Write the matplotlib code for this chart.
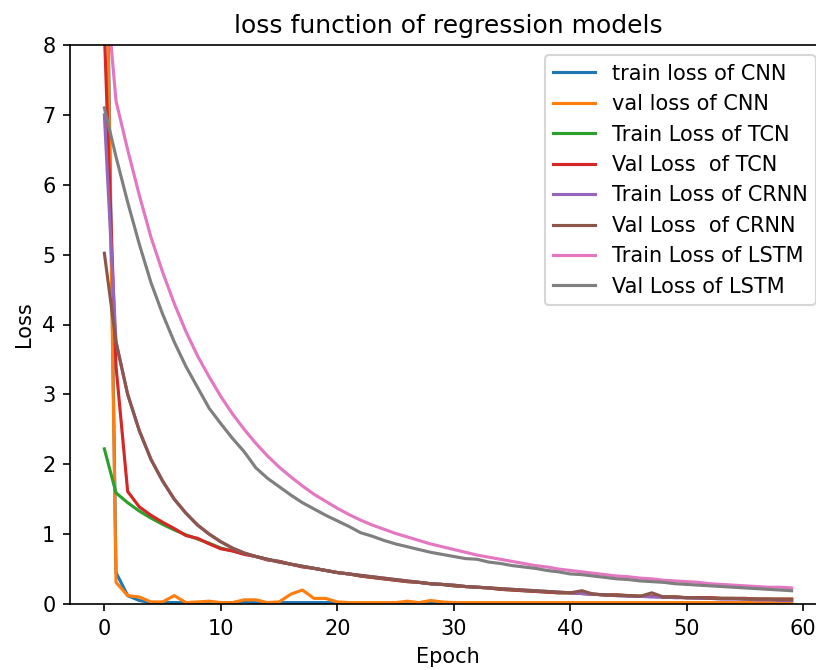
import numpy as np
import matplotlib
matplotlib.use("Agg")
import matplotlib.pyplot as plt

# ================== DATA ==================
epochs = list(range(60))

train_cnn = [12.0, 0.45, 0.12, 0.05, 0.02, 0.02, 0.02, 0.02, 0.02, 0.02,
             0.02, 0.02, 0.03, 0.02, 0.02, 0.02, 0.02, 0.02, 0.02, 0.02,
             0.02, 0.01, 0.01, 0.01, 0.01, 0.01, 0.02, 0.01, 0.02, 0.01,
             0.01, 0.01, 0.01, 0.01, 0.01, 0.01, 0.01, 0.01, 0.01, 0.01,
             0.01, 0.01, 0.01, 0.01, 0.01, 0.01, 0.01, 0.01, 0.01, 0.01,
             0.01, 0.01, 0.01, 0.01, 0.01, 0.01, 0.01, 0.01, 0.01, 0.01]
val_cnn = [11.6, 0.31, 0.12, 0.10, 0.03, 0.03, 0.12, 0.02, 0.03, 0.04,
           0.02, 0.02, 0.06, 0.06, 0.02, 0.03, 0.14, 0.20, 0.08, 0.08,
           0.03, 0.02, 0.02, 0.02, 0.02, 0.02, 0.04, 0.02, 0.05, 0.03,
           0.02, 0.02, 0.02, 0.02, 0.02, 0.02, 0.02, 0.02, 0.02, 0.02,
           0.02, 0.02, 0.02, 0.02, 0.02, 0.02, 0.02, 0.02, 0.02, 0.02,
           0.02, 0.02, 0.02, 0.02, 0.02, 0.02, 0.02, 0.02, 0.02, 0.02]
train_tcn = [2.22, 1.59, 1.45, 1.33, 1.23, 1.14, 1.06, 0.99, 0.93, 0.87,
             0.80, 0.76, 0.72, 0.68, 0.64, 0.61, 0.57, 0.54, 0.51, 0.48,
             0.45, 0.43, 0.40, 0.38, 0.36, 0.34, 0.32, 0.31, 0.29, 0.28,
             0.26, 0.25, 0.24, 0.23, 0.21, 0.20, 0.19, 0.18, 0.17, 0.16,
             0.16, 0.15, 0.14, 0.13, 0.13, 0.12, 0.11, 0.11, 0.10, 0.10,
             0.09, 0.09, 0.09, 0.08, 0.08, 0.08, 0.07, 0.07, 0.07, 0.07]
val_tcn = [8.2, 3.4, 1.61, 1.39, 1.27, 1.17, 1.08, 0.98, 0.94, 0.86,
           0.79, 0.76, 0.71, 0.68, 0.63, 0.61, 0.57, 0.53, 0.51, 0.48,
           0.45, 0.43, 0.40, 0.38, 0.36, 0.34, 0.32, 0.31, 0.29, 0.28,
           0.26, 0.25, 0.24, 0.23, 0.21, 0.20, 0.19, 0.18, 0.17, 0.16,
           0.16, 0.15, 0.14, 0.13, 0.13, 0.12, 0.11, 0.11, 0.10, 0.10,
           0.09, 0.09, 0.09, 0.08, 0.08, 0.08, 0.07, 0.07, 0.07, 0.07]
train_crnn = [7.0, 3.75, 3.0, 2.48, 2.07, 1.76, 1.5, 1.3, 1.13, 1.0,
              0.89, 0.8, 0.73, 0.68, 0.64, 0.60, 0.57, 0.54, 0.51, 0.48,
              0.45, 0.43, 0.41, 0.39, 0.37, 0.35, 0.33, 0.31, 0.29, 0.28,
              0.27, 0.25, 0.24, 0.23, 0.22, 0.21, 0.20, 0.19, 0.18, 0.17,
              0.16, 0.15, 0.14, 0.13, 0.12, 0.11, 0.11, 0.10, 0.10, 0.09,
              0.09, 0.08, 0.08, 0.07, 0.07, 0.07, 0.06, 0.06, 0.05, 0.05]
val_crnn = [5.02, 3.75, 3.0, 2.48, 2.07, 1.76, 1.5, 1.3, 1.13, 1.0,
            0.89, 0.8, 0.73, 0.68, 0.64, 0.60, 0.57, 0.54, 0.51, 0.48,
            0.45, 0.43, 0.41, 0.39, 0.37, 0.35, 0.33, 0.31, 0.29, 0.28,
            0.27, 0.25, 0.24, 0.23, 0.22, 0.21, 0.20, 0.19, 0.18, 0.17,
            0.16, 0.19, 0.14, 0.13, 0.12, 0.12, 0.11, 0.16, 0.10, 0.10,
            0.09, 0.09, 0.08, 0.08, 0.08, 0.07, 0.07, 0.07, 0.06, 0.06]
train_lstm = [9.1, 7.2, 6.5, 5.85, 5.25, 4.75, 4.3, 3.9, 3.55, 3.25,
              2.97, 2.72, 2.5, 2.3, 2.12, 1.96, 1.82, 1.69, 1.57, 1.47,
              1.37, 1.28, 1.2, 1.13, 1.07, 1.01, 0.96, 0.91, 0.86, 0.82,
              0.78, 0.74, 0.70, 0.67, 0.64, 0.61, 0.58, 0.55, 0.53, 0.50,
              0.48, 0.46, 0.44, 0.42, 0.40, 0.39, 0.37, 0.36, 0.34, 0.33,
              0.32, 0.31, 0.29, 0.28, 0.27, 0.26, 0.25, 0.24, 0.24, 0.23]
val_lstm = [7.1, 6.4, 5.75, 5.15, 4.6, 4.15, 3.75, 3.4, 3.1, 2.8,
            2.58, 2.37, 2.18, 1.95, 1.8, 1.68, 1.56, 1.45, 1.36, 1.27,
            1.19, 1.11, 1.02, 0.97, 0.91, 0.86, 0.82, 0.78, 0.74, 0.71,
            0.68, 0.65, 0.64, 0.60, 0.58, 0.55, 0.53, 0.51, 0.48, 0.46,
            0.43, 0.42, 0.40, 0.38, 0.36, 0.35, 0.33, 0.32, 0.31, 0.29,
            0.28, 0.27, 0.26, 0.25, 0.24, 0.23, 0.22, 0.21, 0.20, 0.19]

series = [
    (train_cnn, 'train loss of CNN'),
    (val_cnn, 'val loss of CNN'),
    (train_tcn, 'Train Loss of TCN'),
    (val_tcn, 'Val Loss  of TCN'),
    (train_crnn, 'Train Loss of CRNN'),
    (val_crnn, 'Val Loss  of CRNN'),
    (train_lstm, 'Train Loss of LSTM'),
    (val_lstm, 'Val Loss of LSTM'),
]

# ================== PLOT ==================
fig = plt.figure(figsize=(816 / 150, 670 / 150), dpi=150)
# the reference is a cropped screenshot: right spine falls just outside
ax = fig.add_axes([70 / 816, 66 / 670, 756 / 816, 559 / 670])

for values, label in series:
    ax.plot(epochs, values, label=label)

ax.set_ylim(0, 8)
ax.set_title('loss function of regression models')
ax.set_xlabel('Epoch')
ax.set_ylabel('Loss')
ax.spines['right'].set_visible(False)
ax.legend(loc='upper right')

fig.savefig('out.png', dpi=150)
